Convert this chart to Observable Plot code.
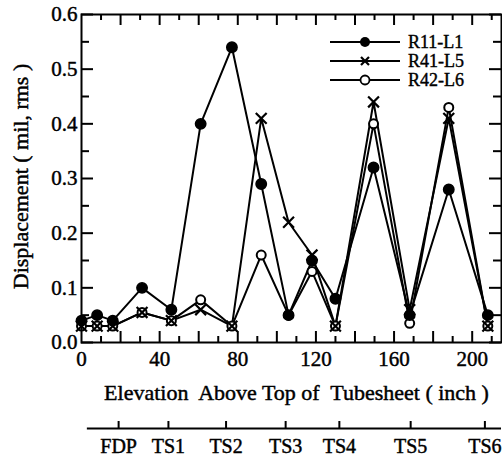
<!DOCTYPE html>
<html><head><meta charset="utf-8">
<script src="https://cdn.jsdelivr.net/npm/d3@7"></script>
<script src="https://cdn.jsdelivr.net/npm/@observablehq/plot@0.6"></script>
<style>
html,body{margin:0;padding:0;background:#fff;}
#chart svg{display:block;}
</style></head><body><div id="chart"></div>
<script>
// ---- data ----
const elevation = [0, 8, 16, 31, 46, 61, 77, 92, 106, 118, 130, 149.5, 168, 188, 208];
const r11 = [0.04, 0.05, 0.04, 0.10, 0.06, 0.40, 0.54, 0.29, 0.05, 0.15, 0.08, 0.32, 0.05, 0.28, 0.05];
const r41 = [0.03, 0.03, 0.03, 0.055, 0.04, 0.06, 0.03, 0.41, 0.22, 0.16, 0.03, 0.44, 0.06, 0.41, 0.03];
const r42 = [0.03, 0.03, 0.03, 0.055, 0.04, 0.078, 0.03, 0.16, 0.05, 0.13, 0.03, 0.40, 0.035, 0.43, 0.03];
const seriesNames = ["R11-L1", "R41-L5", "R42-L6"];
const xTickLabels = [0, 40, 80, 120, 160, 200];
const xMajorTicks = [20, 40, 60, 80, 100, 120, 140, 160, 180, 200];
const xMinorTicks = [10, 30, 50, 70, 90, 110, 130, 150, 170, 190, 210];
const yTickLabels = [0.0, 0.1, 0.2, 0.3, 0.4, 0.5, 0.6];
const yMinorTicks = [0.05, 0.15, 0.25, 0.35, 0.45, 0.55];
const supportNames = ["FDP", "TS1", "TS2", "TS3", "TS4", "TS5", "TS6"];
const supportPositions = [19, 44.5, 74, 104.5, 132, 168.5, 206.5];
const xTitle = "Elevation  Above Top of  Tubesheet ( inch )";
const yTitle = "Displacement ( mil, rms )";

// ---- layout ----
const W = 502, H = 470, mL = 81, mR = 1, mT = 14, mB = 128;
const frameH = H - mT - mB, frameW = W - mL - mR;
const font = "'Liberation Serif', 'Times New Roman', serif";
const xDomain = [0, 215];
const ink = {fill: "black", stroke: "black", strokeWidth: 0.45};
const supAxisOffset = 86;   // px below plot frame for the support-location axis
const supTickLen = 7;

const rows = elevation.flatMap((x, i) => [
  {series: seriesNames[0], x, y: r11[i]},
  {series: seriesNames[1], x, y: r41[i]},
  {series: seriesNames[2], x, y: r42[i]}
]);
const bySeries = s => rows.filter(d => d.series === s);
const supports = supportNames.map((name, i) => ({name, x: supportPositions[i]}));

const main = Plot.plot({
  width: W, height: H,
  marginLeft: mL, marginRight: mR, marginTop: mT, marginBottom: mB,
  style: {fontFamily: font, fontSize: "20px", color: "black", background: "white", overflow: "visible"},
  x: {domain: xDomain, axis: null},
  y: {domain: [0, 0.6], axis: null},
  marks: [
    Plot.line(rows, {x: "x", y: "y", z: "series", stroke: "black", strokeWidth: 2}),
    Plot.dot(bySeries(seriesNames[2]), {x: "x", y: "y", r: 4.5, fill: "white", stroke: "black", strokeWidth: 2}),
    Plot.dot(bySeries(seriesNames[1]), {x: "x", y: "y", r: 5, symbol: "times", stroke: "black", strokeWidth: 2.2}),
    Plot.dot(bySeries(seriesNames[0]), {x: "x", y: "y", r: 5.2, fill: "black", stroke: "black"}),
    Plot.frame({stroke: "black", strokeWidth: 2}),
    // bottom ticks (inward)
    Plot.ruleX(xMajorTicks, {x: d => d, insetTop: frameH - 11, stroke: "black", strokeWidth: 2}),
    Plot.ruleX(xMinorTicks, {x: d => d, insetTop: frameH - 6, stroke: "black", strokeWidth: 2}),
    // top ticks (inward)
    Plot.ruleX(xMajorTicks, {x: d => d, insetBottom: frameH - 11, stroke: "black", strokeWidth: 2}),
    Plot.ruleX(xMinorTicks, {x: d => d, insetBottom: frameH - 6, stroke: "black", strokeWidth: 2}),
    // left ticks
    Plot.ruleY(yTickLabels, {y: d => d, insetRight: frameW - 12, stroke: "black", strokeWidth: 2}),
    Plot.ruleY(yMinorTicks, {y: d => d, insetRight: frameW - 8, stroke: "black", strokeWidth: 2}),
    // right ticks
    Plot.ruleY(yTickLabels, {y: d => d, insetLeft: frameW - 12, stroke: "black", strokeWidth: 2}),
    Plot.ruleY(yMinorTicks, {y: d => d, insetLeft: frameW - 8, stroke: "black", strokeWidth: 2}),
    // tick labels
    Plot.text(xTickLabels, {x: d => d, text: d => String(d), frameAnchor: "bottom", dy: 17, lineAnchor: "middle", fontSize: 21, ...ink}),
    Plot.text(yTickLabels, {y: d => d, text: d => d.toFixed(1), frameAnchor: "left", textAnchor: "end", dx: -4, fontSize: 21, ...ink}),
    // titles
    Plot.text([xTitle], {text: d => d, frameAnchor: "bottom", dy: 50, dx: 5, lineAnchor: "middle", fontSize: 22, ...ink}),
    Plot.text([yTitle], {text: d => d, frameAnchor: "left", textAnchor: "middle", rotate: -90, dx: -61, dy: -2, lineAnchor: "middle", fontSize: 22, ...ink}),
    // support-location axis below the chart
    Plot.ruleY([0], {y: d => d, x1: 3, x2: xDomain[1], dy: supAxisOffset, stroke: "black", strokeWidth: 2}),
    Plot.tickX(supportPositions, {x: d => d, dy: supAxisOffset, insetTop: frameH - supTickLen, stroke: "black", strokeWidth: 2}),
    Plot.text(supports, {x: "x", text: "name", frameAnchor: "bottom", dy: supAxisOffset + 18, lineAnchor: "middle", fontSize: 20, ...ink})
  ]
});

// legend (inside frame, top right)
{
  const svg = d3.select(main);
  const g = svg.append("g").attr("font-family", font).attr("font-size", 18).attr("text-anchor", "start");
  const x1 = W - mR - 171, x2 = W - mR - 101, xm = (x1 + x2) / 2, xt = W - mR - 93;
  seriesNames.forEach((name, i) => {
    const y = mT + 28 + 19 * i;
    g.append("line").attr("x1", x1).attr("x2", x2).attr("y1", y).attr("y2", y)
      .attr("stroke", "black").attr("stroke-width", 2);
    if (i === 0) g.append("circle").attr("cx", xm).attr("cy", y).attr("r", 5).attr("fill", "black");
    if (i === 1) g.append("path").attr("d", `M${xm-4},${y-4}L${xm+4},${y+4}M${xm-4},${y+4}L${xm+4},${y-4}`)
      .attr("stroke", "black").attr("stroke-width", 2.2);
    if (i === 2) g.append("circle").attr("cx", xm).attr("cy", y).attr("r", 4.5).attr("fill", "white")
      .attr("stroke", "black").attr("stroke-width", 1.8);
    g.append("text").attr("x", xt).attr("y", y).attr("dy", "0.35em").attr("fill", "black")
      .attr("stroke", "black").attr("stroke-width", 0.4).text(name);
  });
}

document.getElementById("chart").append(main);
</script>
</body></html>
